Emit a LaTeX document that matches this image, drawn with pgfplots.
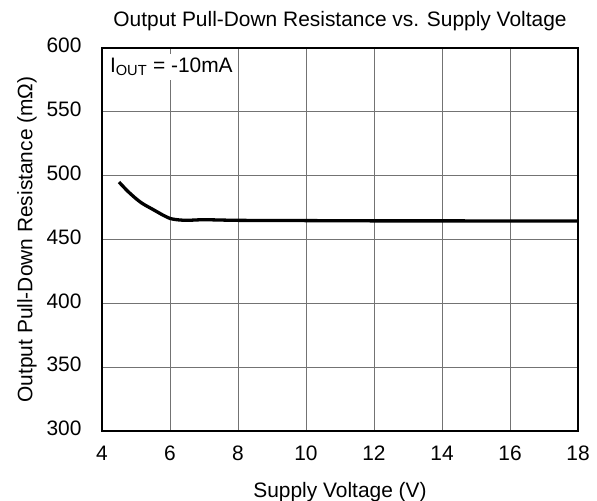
\documentclass[border=0pt]{standalone}
\usepackage{fontspec}
\setmainfont{Liberation Sans}
\usepackage{pgfplots}
\pgfplotsset{compat=1.18}
\usetikzlibrary{calc}

\begin{document}
\begin{tikzpicture}
\begin{axis}[
    name=main,
    scale only axis,
    width=476bp, height=383bp,
    xmin=4, xmax=18, ymin=300, ymax=600,
    xtick={4,6,...,18}, ytick={300,350,...,600},
    grid=major,
    major grid style={black!55, line width=0.9bp},
    axis line style={black, line width=1.6bp},
    major tick length=0pt,
    tick label style={font=\fontsize{21}{24}\selectfont},
    typeset ticklabels with strut,
    /pgf/number format/assume math mode=true,
    xticklabel style={yshift=-9bp},
    yticklabel style={xshift=-17bp},
    title={Output Pull-Down Resistance vs. Supply Voltage},
    title style={font=\fontsize{21}{24}\selectfont, yshift=8bp},
    xlabel={Supply Voltage (V)},
    ylabel={Output Pull-Down Resistance (mΩ)},
    label style={font=\fontsize{21}{24}\selectfont},
    xlabel style={yshift=-8bp},
    ylabel style={yshift=3bp},
]
\addplot[black, line width=3.3bp, smooth, tension=0.4] coordinates {
 (4.5,495) (4.75,488) (5.0,482) (5.2,478) (5.5,473.5) (5.8,469) (6.0,466.5)
 (6.2,465.5) (6.5,465) (7.0,465.5) (8,465) (10,464.8) (12,464.6) (14,464.6) (16,464.5) (18,464.5)
};
\node[anchor=north west, fill=white, inner sep=4bp, font=\fontsize{21}{24}\selectfont]
  at (rel axis cs:0.008,0.985) {I\textsubscript{OUT} = -10mA};
\end{axis}
\pgfresetboundingbox
\path[use as bounding box] ($(main.south west)+(-102bp,-70bp)$) rectangle ($(main.north east)+(19bp,48bp)$);
\end{tikzpicture}
\end{document}
